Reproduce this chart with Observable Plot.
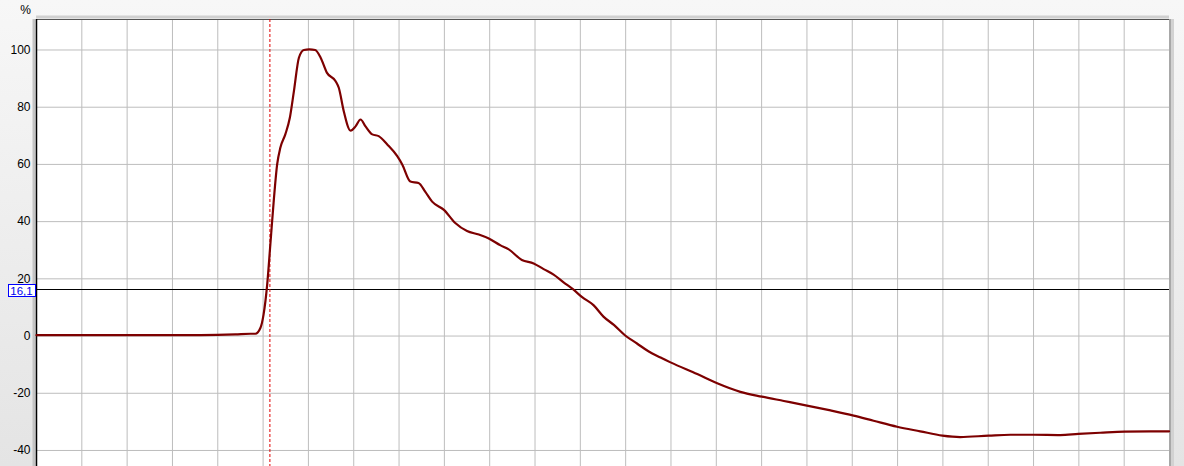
<!DOCTYPE html>
<html>
<head>
<meta charset="utf-8">
<script src="https://cdn.jsdelivr.net/npm/d3@7"></script>
<script src="https://cdn.jsdelivr.net/npm/@observablehq/plot@0.6"></script>
<style>
  html, body { margin: 0; padding: 0; background: #f0f0f0; }
  #chart svg { display: block; background: linear-gradient(to bottom, #f7f7f7, #e4e4e4); }
</style>
</head>
<body>
<div id="chart"></div>
<script>
// time positions (grid divisions) of the curve
const times = [0, 1.41, 2.51, 3.62, 4.39, 4.72, 4.83, 4.94, 5.01, 5.09, 5.16, 5.24, 5.31, 5.38, 5.49, 5.59, 5.68, 5.79, 5.90, 6.02, 6.15, 6.27, 6.41, 6.60, 6.67, 6.78, 6.93, 7.04, 7.15, 7.26, 7.41, 7.55, 7.74, 7.96, 8.07, 8.25, 8.43, 8.58, 8.73, 8.99, 9.24, 9.50, 9.76, 9.98, 10.24, 10.42, 10.71, 10.97, 11.19, 11.41, 11.63, 11.85, 12.04, 12.29, 12.51, 12.74, 12.99, 13.25, 13.51, 13.77, 13.99, 14.58, 15.02, 15.53, 16.01, 16.49, 17.00, 17.52, 18.03, 18.47, 18.99, 19.50, 19.99, 20.38, 21.01, 21.49, 22.00, 22.59, 22.99, 23.47, 24.01, 24.58, 24.99];
// percent values
const percents = [0.3, 0.3, 0.3, 0.35, 0.6, 0.8, 0.8, 2.8, 7.5, 18, 32, 48.3, 60, 65.8, 70.5, 76.3, 85.6, 97.3, 100, 100.2, 100, 97.3, 92, 89.1, 86.8, 78.6, 71.8, 73.3, 75.7, 73.3, 70.5, 69.9, 67, 62.9, 60, 54, 53.5, 50.4, 47, 44.1, 39.5, 36.7, 35.5, 34.1, 31.7, 30.3, 26.6, 25.4, 23.4, 21.5, 18.8, 16.2, 13.6, 10.8, 6.8, 3.9, 0.2, -2.6, -5.4, -7.5, -9.2, -13.3, -16.5, -19.5, -21.2, -22.7, -24.3, -26, -27.8, -29.6, -31.7, -33.3, -34.8, -35.3, -34.8, -34.5, -34.5, -34.6, -34.2, -33.8, -33.4, -33.3, -33.3];
const yTicks = [-40, -20, 0, 20, 40, 60, 80, 100];
const xGrid = d3.range(0, 26);
const xDomain = [0, 25];
const yDomain = [-45.6, 110.66];
const cursorTime = 5.15;
const threshold = 16.1;

const data = times.map((t, i) => ({t, v: percents[i]}));
const fmt = d => String(d).replace(".", ",");

const chart = Plot.plot({
  width: 1184,
  height: 466,
  marginLeft: 36,
  marginRight: 15,
  marginTop: 19,
  marginBottom: 0,
  style: {fontFamily: "'Liberation Sans', Arial, sans-serif", fontSize: "12px", color: "black", overflow: "visible"},
  x: {domain: xDomain, axis: null},
  y: {domain: yDomain, axis: null},
  marks: [
    Plot.frame({fill: "white", stroke: null}),
    Plot.gridX(xGrid, {stroke: "#bdbdbd", strokeOpacity: 1}),
    Plot.gridY(yTicks, {stroke: "#bdbdbd", strokeOpacity: 1}),
    // shadows / borders
    Plot.ruleX([xDomain[0]], {stroke: "#c4c4c4", strokeWidth: 3, dx: -2.5}),
    Plot.ruleY([yDomain[1]], {stroke: "#d0d0d0", strokeWidth: 3, dy: -2.5}),
    Plot.ruleX([xDomain[1]], {stroke: "#a8a8a8", strokeWidth: 2, dx: 0.5}),
    Plot.ruleX([xDomain[1]], {stroke: "#d2d2d2", strokeWidth: 3, dx: 3}),
    Plot.ruleY([yDomain[1]], {stroke: "#555", strokeWidth: 1}),
    Plot.ruleX([xDomain[0]], {stroke: "black", strokeWidth: 1.5}),
    // y ticks
    Plot.axisY(yTicks, {tickSize: 0, tickPadding: 6, label: null, fontSize: 12, fill: "black", tickFormat: d => String(d)}),
    Plot.text(["%"], {frameAnchor: "top-left", dx: -11, dy: -9, textAnchor: "middle", lineAnchor: "middle", fontSize: 12, fill: "black"}),
    // threshold line
    Plot.ruleY([threshold], {stroke: "black", strokeWidth: 1, shapeRendering: "crispEdges"}),
    // cursor
    Plot.ruleX([cursorTime], {stroke: "#e00000", strokeWidth: 1, strokeDasharray: "3,2"}),
    // curve
    Plot.line(data, {x: "t", y: "v", stroke: "#7d0000", strokeWidth: 2.2, curve: "monotone-x"}),
    // threshold label with box
    Plot.text([threshold], {
      y: d => d, frameAnchor: "left", dx: -15, dy: 1, textAnchor: "middle", lineAnchor: "middle",
      text: fmt, fill: "#0000ee", fontSize: 11.5,
      render(index, scales, values, dimensions, context, next) {
        const g = next(index, scales, values, dimensions, context);
        const yy = values.y ? values.y[index[0]] : scales.y(threshold);
        const rect = document.createElementNS("http://www.w3.org/2000/svg", "rect");
        // group is translated by dx = -15, dy = 1
        rect.setAttribute("x", dimensions.marginLeft - 28 + 15);
        rect.setAttribute("y", yy - 6.5);
        rect.setAttribute("width", 27);
        rect.setAttribute("height", 12);
        rect.setAttribute("fill", "white");
        rect.setAttribute("stroke", "#0000ff");
        rect.setAttribute("stroke-width", 1);
        g.insertBefore(rect, g.firstChild);
        return g;
      }
    })
  ]
});
document.getElementById("chart").appendChild(chart);
</script>
</body>
</html>
